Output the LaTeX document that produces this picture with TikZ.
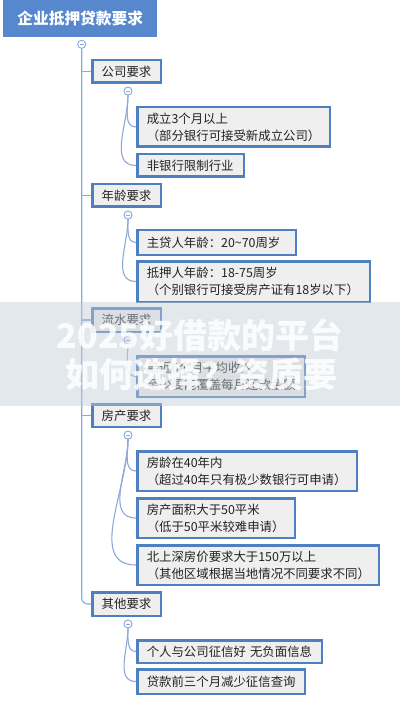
\documentclass[tikz,border=0pt]{standalone}
\usepackage{fontspec}
\setmainfont{Noto Sans CJK SC}
\usetikzlibrary{positioning}
\definecolor{titlefill}{HTML}{5788CE}
\definecolor{boxborder}{HTML}{4E7FC0}
\definecolor{boxfill}{HTML}{EFEFEF}
\definecolor{linec}{HTML}{8BAAD8}
\definecolor{txt}{HTML}{222222}
\definecolor{wmband}{HTML}{C3CDD8}
\tikzset{
  basebox/.style={draw=boxborder, line width=2.5pt, fill=boxfill, text=txt,
    anchor=north west, inner ysep=0pt, font=\fontsize{12.4}{17}\selectfont},
  cat/.style={basebox, align=center, inner xsep=4pt, minimum width=68.5pt},
  leaf/.style={basebox, align=left, inner xsep=9.5pt},
  knob/.style={circle, draw=linec, line width=0.8pt, fill=white, minimum size=8pt, inner sep=0pt,
    path picture={\draw[linec, line width=0.8pt] ([xshift=-2pt]path picture bounding box.center) -- ([xshift=2pt]path picture bounding box.center);}},
  conn/.style={draw=linec, line width=1.1pt},
  wmtext/.style={text=white, opacity=0.85, font=\bfseries\fontsize{34}{40}\selectfont}
}
\begin{document}
\begin{tikzpicture}[x=1pt,y=-1pt]
\useasboundingbox (0,0) rectangle (400,708);
\fill[white] (0,0) rectangle (400,708);

% title
\node[fill=titlefill, text=white, anchor=north west, minimum width=154pt, minimum height=37pt,
  inner sep=0pt, font=\bfseries\fontsize{15.7}{18}\selectfont] (title) at (3,0) {企业抵押贷款要求};
\node[knob] (t0) at (81.7,44.3) {};

% categories
\node[cat, minimum height=22.5pt] (l1) at (91,59) {公司要求};
\node[cat, minimum height=22.5pt] (l2) at (91,183) {年龄要求};
\node[cat, minimum height=23.5pt] (l3) at (91,307) {流水要求};
\node[cat, minimum height=22.5pt] (l4) at (91,403) {房产要求};
\node[cat, minimum height=23.5pt] (l5) at (91,591) {其他要求};

% knobs under categories
\node[knob] (k1) at (128,91) {};
\node[knob] (k2) at (128,215) {};
\node[knob] (k3) at (128,340) {};
\node[knob] (k4) at (128,435) {};
\node[knob] (k5) at (128,624) {};

% leaves
\node[leaf, minimum width=192.5pt, minimum height=39.5pt, text width=173.5pt] (c1a) at (136,106)
  {成立3个月以上\\（部分银行可接受新成立公司）};
\node[leaf, minimum width=106.5pt, minimum height=22.5pt, text width=87.5pt] (c1b) at (136,153)
  {非银行限制行业};
\node[leaf, minimum width=158.5pt, minimum height=24.5pt, text width=139.5pt] (c2a) at (136,229)
  {主贷人年龄：20\textasciitilde70周岁};
\node[leaf, minimum width=232.5pt, minimum height=40.5pt, text width=213.5pt] (c2b) at (136,260)
  {抵押人年龄：18-75周岁\\（个别银行可接受房产证有18岁以下）};
\node[leaf, minimum width=167.5pt, minimum height=40.5pt, text width=148.5pt] (c3a) at (136,355)
  {最近6个月平均收入\\至少要能覆盖每月还款金额};
\node[leaf, minimum width=219.5pt, minimum height=39.5pt, text width=200.5pt] (c4a) at (136,450)
  {房龄在40年内\\（超过40年只有极少数银行可申请）};
\node[leaf, minimum width=157.5pt, minimum height=39.5pt, text width=138.5pt] (c4b) at (136,497)
  {房产面积大于50平米\\（低于50平米较难申请）};
\node[leaf, minimum width=241.5pt, minimum height=39.5pt, text width=222.5pt] (c4c) at (136,544)
  {北上深房价要求大于150万以上\\（其他区域根据当地情况不同要求不同）};
\node[leaf, minimum width=184.5pt, minimum height=22.5pt, text width=165.5pt] (c5a) at (136,639)
  {个人与公司征信好 无负面信息};
\node[leaf, minimum width=167.5pt, minimum height=24.5pt, text width=148.5pt] (c5b) at (136,668)
  {贷款前三个月减少征信查询};

% trunk and category connectors
\begin{scope}[on background layer/.style={}]
\draw[conn, rounded corners=6pt] (t0.south) |- (l5.west);
\draw[conn] (t0 |- l1.west) -- (l1.west);
\draw[conn] (t0 |- l2.west) -- (l2.west);
\draw[conn] (t0 |- l3.west) -- (l3.west);
\draw[conn] (t0 |- l4.west) -- (l4.west);
% category to knob
\draw[conn] (k1.south) to[out=-90,in=180] (c1a.west);
\draw[conn] (k1.south) to[out=-90,in=180] (c1b.west);
\draw[conn] (k2.south) to[out=-90,in=180] (c2a.west);
\draw[conn] (k2.south) to[out=-90,in=180] (c2b.west);
\draw[conn] (k3.south) to[out=-90,in=180] (c3a.west);
\draw[conn] (k4.south) to[out=-90,in=180] (c4a.west);
\draw[conn] (k4.south) to[out=-90,in=180] (c4b.west);
\draw[conn] (k4.south) to[out=-90,in=180] (c4c.west);
\draw[conn] (k5.south) to[out=-90,in=180] (c5a.west);
\draw[conn] (k5.south) to[out=-90,in=180] (c5b.west);
\end{scope}
% redraw knobs on top of lines
\node[knob] at (t0) {};
\node[knob] at (k1) {};
\node[knob] at (k2) {};
\node[knob] at (k3) {};
\node[knob] at (k4) {};
\node[knob] at (k5) {};

% watermark band
\fill[wmband, opacity=0.45] (0,302) rectangle (400,406);
\node[wmtext] (wm1) at (200,335) {2025好借款的平台};
\node[wmtext] (wm2) at (201,375) {如何选择？资质要};
\end{tikzpicture}
\end{document}
